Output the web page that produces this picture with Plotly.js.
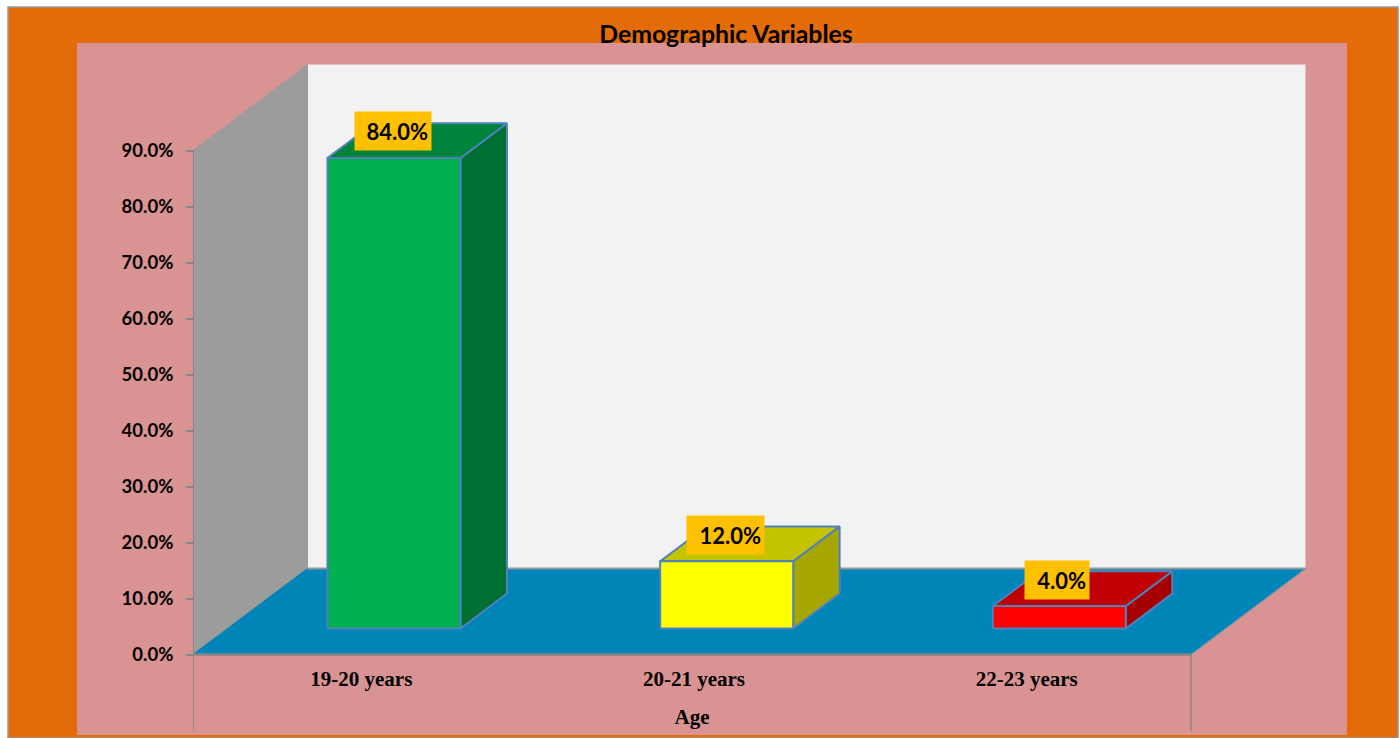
<!DOCTYPE html>
<html>
<head>
<meta charset="utf-8">
<script src="https://cdn.plot.ly/plotly-3.0.1.min.js"></script>
<style>html,body{margin:0;padding:0;background:#fff;overflow:hidden}#chart{width:1400px;height:738px}</style>
</head>
<body>
<div id="chart"></div>
<script>
// ---- data ----
const categories = ['19-20 years', '20-21 years', '22-23 years'];
const values = [84, 12, 4];
const dataLabels = ['84.0%', '12.0%', '4.0%'];
const yTicks = [0, 10, 20, 30, 40, 50, 60, 70, 80, 90];
const yTickLabels = ['0.0%', '10.0%', '20.0%', '30.0%', '40.0%', '50.0%', '60.0%', '70.0%', '80.0%', '90.0%'];
const frontColors = ['#00B050', '#FFFF00', '#FF0000'];
const sideColors = ['#006F32', '#A6A600', '#A60000'];
const topColors = ['#00843C', '#C3C300', '#C00000'];

// ---- 3D oblique projection, in axis units ----
const W = 1400, H = 738;
const pxL = 193, pxFront = 1191, pxR = 1309, pxT = 62, pxB = 731, px0 = 654.5;
const catPx = (pxFront - pxL) / 3, valPx = 5.6;
const depthX = 114.5 / catPx, depthY = 86 / valPx;
const yMax = 90, xMin = -0.5, xMax = 2.5;
const P = (x, y, d) => [x + d * depthX, y + d * depthY];
const barFront = 0.303, barBack = 0.708, barHalf = 0.2;

function poly(corners, fill, line, width, xaxis) {
  const pts = corners.concat([corners[0]]);
  return {
    type: 'scatter', mode: 'lines', x: pts.map(p => p[0]), y: pts.map(p => p[1]),
    xaxis: xaxis || 'x', yaxis: 'y',
    fill: 'toself', fillcolor: fill, hoverinfo: 'skip', showlegend: false,
    line: {color: line || fill, width: width === undefined ? 1 : width}
  };
}
function seg(a, b, color, width) {
  return {
    type: 'scatter', mode: 'lines', x: [a[0], b[0]], y: [a[1], b[1]], xaxis: 'x', yaxis: 'y',
    hoverinfo: 'skip', showlegend: false, line: {color: color, width: width}
  };
}

const yBottom = -(pxB - px0) / valPx;
const traces = [];
// back wall, side wall, floor (wide hidden axis)
traces.push(poly([P(xMin, 0, 1), P(xMax, 0, 1), P(xMax, yMax, 1), P(xMin, yMax, 1)], '#F2F2F2', '#E6BDBD', 1));
traces.push(poly([P(xMin, 0, 0), P(xMin, 0, 1), P(xMin, yMax, 1), P(xMin, yMax, 0)], '#9C9C9C'));
traces.push(poly([P(xMin, 0, 0), P(xMax, 0, 0), P(xMax, 0, 1), P(xMin, 0, 1)], '#0085B8', '#0085B8', 1));
traces.push(seg(P(xMin, 0, 1), P(xMax, 0, 1), '#8E9A9E', 2));
traces.push(seg(P(xMax, 0, 0), P(xMax, 0, 1), '#8E9A9E', 1));
// axis lines
traces.push(seg(P(xMin, 0, 0), P(xMin, yMax, 0), '#868686', 2));
traces.push(seg(P(xMin, yBottom, 0), P(xMin, 0, 0), '#868686', 1.5));
traces.push(seg(P(xMax, yBottom, 0), P(xMax, 0, 0), '#868686', 1.5));
traces.push(seg(P(xMin, 0, 0), P(xMax, 0, 0), '#868686', 2.5));
// bars (category axis)
const edge = '#4F81BD', edgeW = 2;
values.forEach((v, i) => {
  const l = i - barHalf, r = i + barHalf;
  traces.push(poly([P(r, 0, barFront), P(r, 0, barBack), P(r, v, barBack), P(r, v, barFront)], sideColors[i], edge, edgeW, 'x2'));
  traces.push(poly([P(l, v, barFront), P(r, v, barFront), P(r, v, barBack), P(l, v, barBack)], topColors[i], edge, edgeW, 'x2'));
  traces.push(poly([P(l, 0, barFront), P(r, 0, barFront), P(r, v, barFront), P(l, v, barFront)], frontColors[i], edge, edgeW, 'x2'));
});

// gold data labels, placed relative to each bar's top
const labelWidths = [77, 78, 65];
const labelOffset = [[-1 / catPx, 27 / valPx], [-1 / catPx, 26.5 / valPx], [-2 / catPx, 26.5 / valPx]];
const annotations = values.map((v, i) => {
  const p = P(i + labelOffset[i][0], v + labelOffset[i][1], 0.303);
  return {
    xref: 'x2', yref: 'y', x: p[0], y: p[1], text: '<b>' + dataLabels[i] + '</b>', showarrow: false,
    font: {family: 'Lato, Carlito, sans-serif', size: 22, color: '#000'},
    bgcolor: '#FFC000', width: labelWidths[i] - 7, height: 32, align: 'right', valign: 'middle', borderpad: 3
  };
});

const layout = {
  width: W, height: H, margin: {l: 0, r: 0, t: 0, b: 0}, autosize: false,
  paper_bgcolor: '#FFFFFF', plot_bgcolor: 'rgba(0,0,0,0)', showlegend: false, hovermode: false,
  title: {
    text: '<b>Demographic Variables</b>', x: 726 / W, xanchor: 'center', y: 1 - 34 / H, yanchor: 'middle',
    font: {family: 'Lato, Carlito, sans-serif', size: 24.8, color: '#000'}
  },
  xaxis: {
    domain: [pxL / W, pxR / W], range: [xMin, xMin + (pxR - pxL) / catPx], anchor: 'y', visible: false
  },
  xaxis2: {
    domain: [pxL / W, pxFront / W], range: [xMin, xMax], anchor: 'free', position: (H - px0) / H,
    tickmode: 'array', tickvals: [0, 1, 2], ticktext: categories.map(c => '<b>' + c + '</b>'),
    showgrid: false, zeroline: false, showline: false, ticks: '', ticklabelstandoff: 9, ticklabelshift: 2,
    tickfont: {family: '"Liberation Serif", serif', size: 21, color: '#000'},
    title: {text: '<b>Age</b>', standoff: 19, font: {family: '"Liberation Serif", serif', size: 21, color: '#000'}}
  },
  yaxis: {
    domain: [(H - pxB) / H, (H - pxT) / H], range: [yBottom, (px0 - pxT) / valPx], anchor: 'free', position: pxL / W,
    tickmode: 'array', tickvals: yTicks, ticktext: yTickLabels.map(t => '<b>' + t + '</b>'),
    showgrid: false, zeroline: false, showline: false, ticks: 'outside', ticklen: 7, tickwidth: 2, tickcolor: '#868686',
    ticklabelstandoff: 9, ticklabelshift: 1.5,
    tickfont: {family: 'Lato, Carlito, sans-serif', size: 18.5, color: '#000'}
  },
  shapes: [
    {type: 'rect', layer: 'below', xref: 'paper', yref: 'paper', x0: 8 / W, x1: 1398 / W, y0: 0, y1: 1 - 7 / H,
      fillcolor: '#E36C09', line: {color: '#979797', width: 1.5}},
    {type: 'rect', layer: 'below', xref: 'paper', yref: 'paper', x0: 77 / W, x1: 1347 / W, y0: 3 / H, y1: 1 - 43 / H,
      fillcolor: '#D99392', line: {width: 0}}
  ],
  annotations: annotations
};
Plotly.newPlot('chart', traces, layout, {displayModeBar: false, staticPlot: true});
</script>
</body>
</html>
